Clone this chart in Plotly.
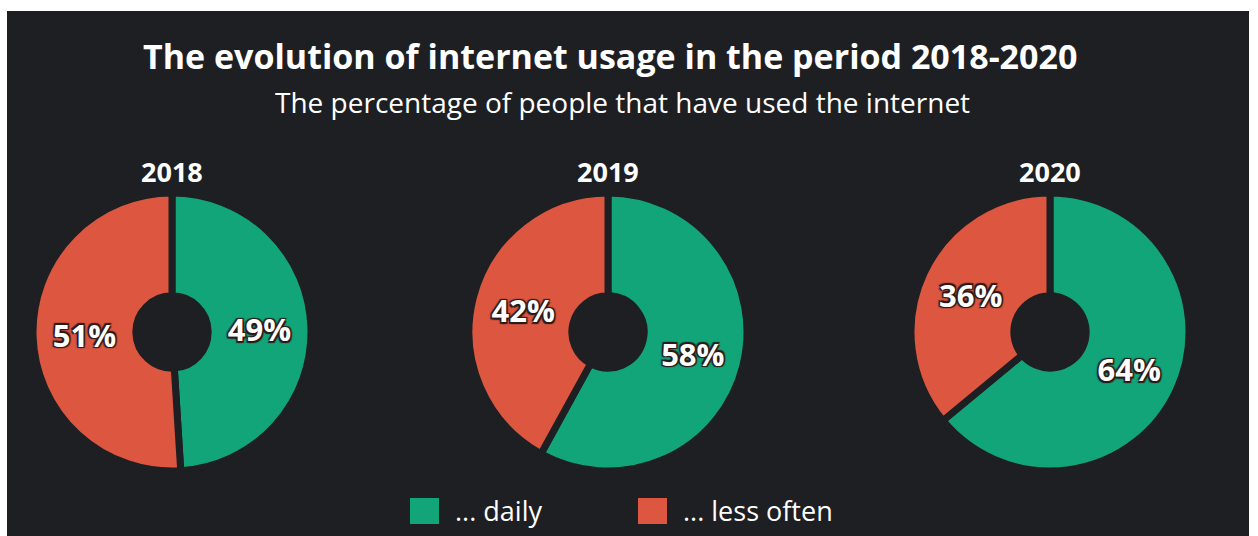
import plotly.graph_objects as go

# Data
years = ["2018", "2019", "2020"]
categories = ["... daily", "... less often"]
daily = [49, 58, 64]
less_often = [51, 42, 36]
colors = ["#13a57a", "#dc5640"]

W, H = 1258, 536
BG = "#1d1f22"
FONT = "Open Sans"

# Pie centres (px) and radius
centers_x = [172, 608, 1050]
center_y = 332
radius = 139

fig = go.Figure()

for i, yr in enumerate(years):
    cx = centers_x[i]
    fig.add_trace(go.Pie(
        labels=categories,
        values=[daily[i], less_often[i]],
        sort=False,
        direction="clockwise",
        rotation=0,
        hole=0.26,
        marker=dict(colors=colors, line=dict(color=BG, width=7)),
        texttemplate="%{value}%",
        textposition="inside",
        insidetextorientation="horizontal",
        textfont=dict(family=FONT, size=31, color="white", weight="bold",
                      shadow="-1.5px -1.5px 1px #2a1a1a, 1.5px -1.5px 1px #2a1a1a, "
                             "-1.5px 1.5px 1px #2a1a1a, 1.5px 1.5px 1px #2a1a1a"),
        domain=dict(x=[(cx - radius) / W, (cx + radius) / W],
                    y=[(H - center_y - radius) / H, (H - center_y + radius) / H]),
        showlegend=False,
        hoverinfo="label+percent",
    ))

annotations = [
    dict(text="<b>The evolution of internet usage in the period 2018-2020</b>",
         x=610 / W, y=1 - 56 / H, xref="paper", yref="paper",
         xanchor="center", yanchor="middle", showarrow=False,
         font=dict(family=FONT, size=34, color="white")),
    dict(text="The percentage of people that have used the internet",
         x=622 / W, y=1 - 102 / H, xref="paper", yref="paper",
         xanchor="center", yanchor="middle", showarrow=False,
         font=dict(family=FONT, size=28, color="white")),
]
for i, yr in enumerate(years):
    annotations.append(dict(
        text=f"<b>{yr}</b>", x=centers_x[i] / W, y=1 - 172 / H,
        xref="paper", yref="paper", xanchor="center", yanchor="middle",
        showarrow=False, font=dict(family=FONT, size=27, color="white")))

# Legend drawn as coloured squares with labels
legend_x = [410, 638]
legend_y = 511
shapes = [dict(type="rect", xref="paper", yref="paper",
               x0=7 / W, x1=1249 / W, y0=0, y1=1 - 11 / H,
               fillcolor=BG, line=dict(width=0), layer="below")]
for lx, col, cat in zip(legend_x, colors, categories):
    shapes.append(dict(type="rect", xref="paper", yref="paper",
                       x0=lx / W, x1=(lx + 29) / W,
                       y0=1 - (legend_y + 13) / H, y1=1 - (legend_y - 13) / H,
                       fillcolor=col, line=dict(width=0)))
    annotations.append(dict(text=cat, x=(lx + 43) / W, y=1 - (legend_y - 1) / H,
                            xref="paper", yref="paper", xanchor="left", yanchor="middle",
                            showarrow=False, font=dict(family=FONT, size=27, color="white")))

fig.update_layout(
    width=W, height=H,
    margin=dict(l=0, r=0, t=0, b=0),
    paper_bgcolor="white",
    shapes=shapes,
    annotations=annotations,
)

fig.write_html("out.html")
